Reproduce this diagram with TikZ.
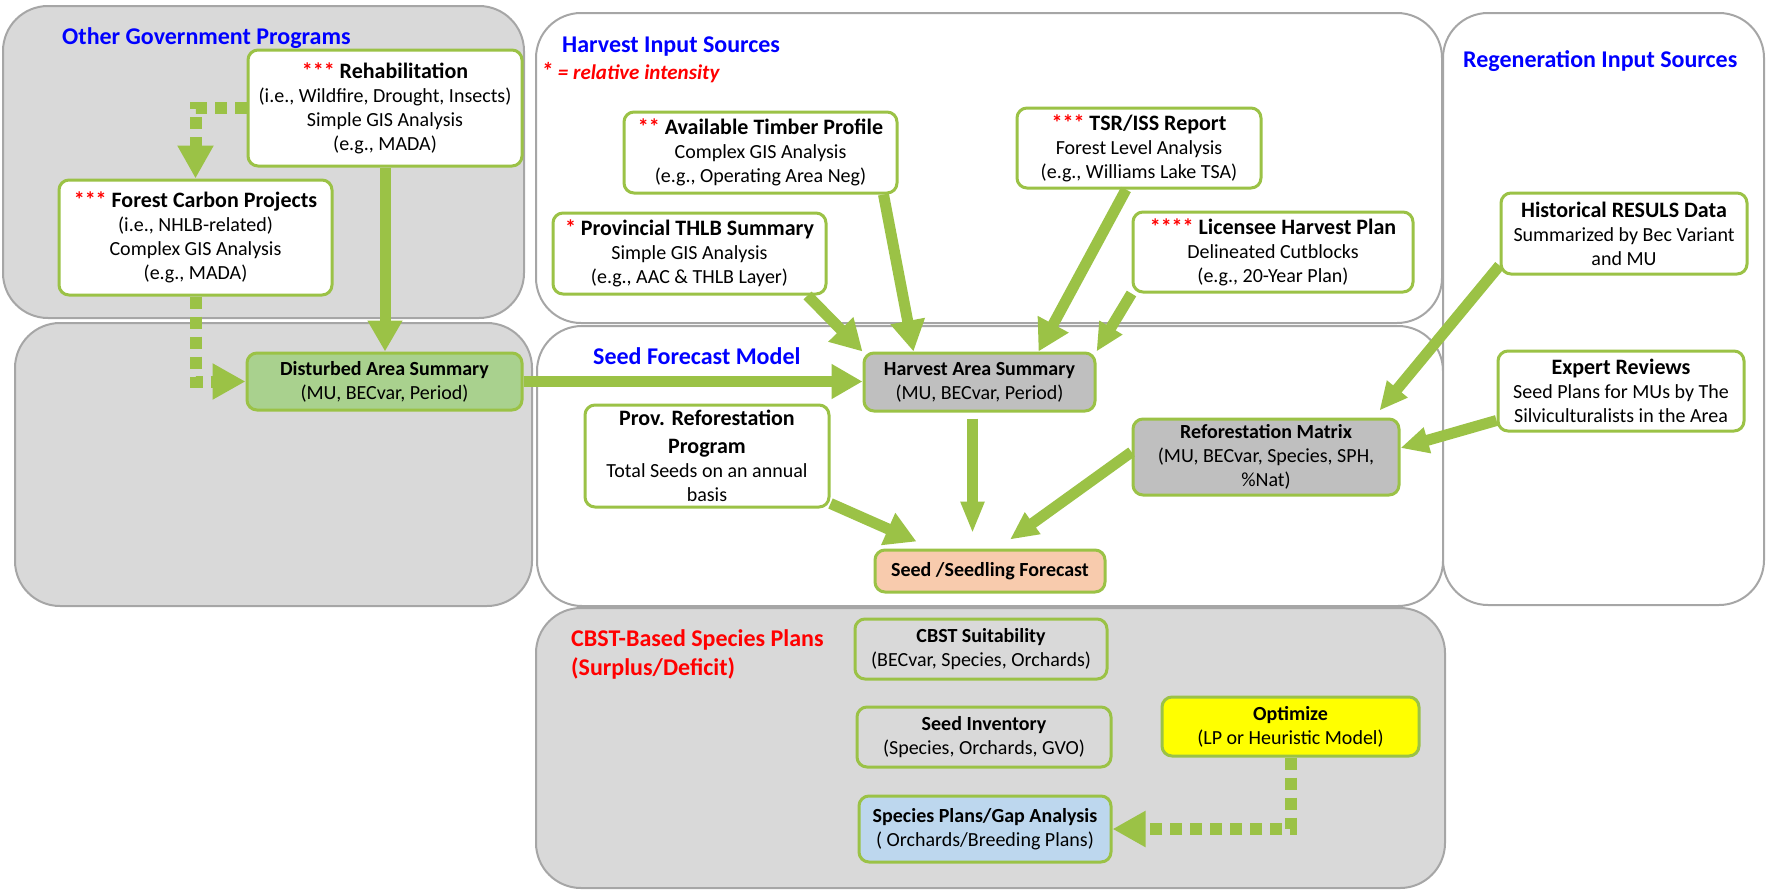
\documentclass[tikz,border=0pt]{standalone}
\usepackage{fontspec}
\setmainfont{Carlito}
\usetikzlibrary{arrows.meta}
\definecolor{grn}{RGB}{155,194,70}
\definecolor{bord}{RGB}{155,194,70}
\definecolor{pgray}{RGB}{217,217,217}
\definecolor{pline}{RGB}{166,166,166}
\definecolor{dgreen}{RGB}{169,209,142}
\definecolor{bgray}{RGB}{191,191,191}
\definecolor{peach}{RGB}{248,203,173}
\definecolor{lblue}{RGB}{189,215,238}
\definecolor{ttlblue}{RGB}{0,0,255}
\definecolor{ylw}{RGB}{255,255,0}
\newcommand{\bodyfont}{\fontsize{20}{24}\selectfont}
\newcommand{\bigttl}[1]{{\fontsize{22}{24}\selectfont\bfseries #1}}
\newcommand{\stars}[1]{\textcolor{red}{#1}}
\tikzset{
  panel/.style={draw=pline, line width=2pt, rounded corners=45pt},
  gpanel/.style={panel, fill=pgray},
  wpanel/.style={panel, fill=white},
  box/.style={draw=bord, line width=3pt, rounded corners=10pt, fill=white, align=center, inner sep=0pt, font=\bodyfont},
  ptitle/.style={font=\fontsize{24}{29}\selectfont\bfseries, text=ttlblue, inner sep=0pt, anchor=west},
  arr/.style={draw=grn, line width=11pt, -{Triangle[width=33pt,length=31pt]}},
  arrm/.style={draw=grn, line width=11pt, -{Triangle[width=25pt,length=28pt]}},
  arrn/.style={draw=grn, line width=11pt, -{Triangle[width=22pt,length=32pt]}},
  dotarr/.style={draw=grn, line width=12pt, dash pattern=on 12pt off 8pt, -{Triangle[width=34pt,length=33pt]}},
}
\begin{document}
\begin{tikzpicture}[x=1pt, y=-1pt]
\useasboundingbox (0,0) rectangle (1766,889);
% panels
\draw[gpanel] (3,6) rectangle (524,318);
\draw[gpanel] (15,323) rectangle (532,606);
\draw[wpanel] (536,13) rectangle (1442,323);
\draw[wpanel] (537,326) rectangle (1443,606);
\draw[wpanel] (1443,13) rectangle (1764,605);
\draw[gpanel] (536,608) rectangle (1445,888);
% panel titles
\node[ptitle] (tOGP) at (62,38) {Other Government Programs};
\node[ptitle] (tHIS) at (562,47) {Harvest Input Sources};
\node[inner sep=0pt, anchor=west, text=red, font=\fontsize{21}{24}\selectfont\bfseries\itshape] (tRI) at (541,73) {{\fontsize{24}{24}\selectfont *} = relative intensity};
\node[ptitle] (tRIS) at (1463,61) {Regeneration Input Sources};
\node[ptitle] (tSFM) at (593,356) {Seed Forecast Model};
\node[ptitle, text=red, align=left] (tCBST) at (571,654) {CBST-Based Species Plans\\(Surplus/Deficit)};
% boxes
\node[box, minimum width=274, minimum height=116] (rehab) at (385,108)
  {\bigttl{\stars{***} Rehabilitation}\\(i.e., Wildfire, Drought, Insects)\\Simple GIS Analysis\\(e.g., MADA)};
\node[box, minimum width=273, minimum height=115] (carbon) at (195.5,237.5)
  {\bigttl{\stars{***} Forest Carbon Projects}\\(i.e., NHLB-related)\\Complex GIS Analysis\\(e.g., MADA)};
\node[box, fill=dgreen, minimum width=275, minimum height=57] (dist) at (384.5,381.5)
  {\textbf{Disturbed Area Summary}\\(MU, BECvar, Period)};
\node[box, minimum width=273, minimum height=81] (avail) at (760.5,152.5)
  {\bigttl{\stars{**} Available Timber Profile}\\Complex GIS Analysis\\(e.g., Operating Area Neg)};
\node[box, minimum width=244, minimum height=80] (tsr) at (1139,148)
  {\bigttl{\stars{***} TSR/ISS Report}\\Forest Level Analysis\\(e.g., Williams Lake TSA)};
\node[box, minimum width=273, minimum height=81] (thlb) at (689.5,253.5)
  {\bigttl{\stars{*} Provincial THLB Summary}\\Simple GIS Analysis\\(e.g., AAC \& THLB Layer)};
\node[box, minimum width=280, minimum height=80] (lic) at (1273,252)
  {\bigttl{\stars{****} Licensee Harvest Plan}\\Delineated Cutblocks\\(e.g., 20-Year Plan)};
\node[box, minimum width=246, minimum height=81] (hist) at (1624,233.5)
  {\bigttl{Historical RESULS Data}\\Summarized by Bec Variant\\and MU};
\node[box, minimum width=246, minimum height=80] (expert) at (1621,391)
  {\bigttl{Expert Reviews}\\Seed Plans for MUs by The\\Silviculturalists in the Area};
\node[box, fill=bgray, minimum width=231, minimum height=58] (has) at (979.5,382)
  {\textbf{Harvest Area Summary}\\(MU, BECvar, Period)};
\node[box, minimum width=244, minimum height=102] (provref) at (707,456)
  {\bigttl{Prov. Reforestation}\\[4pt]\bigttl{Program}\\Total Seeds on an annual\\basis};
\node[box, fill=bgray, minimum width=266, minimum height=76] (refm) at (1266,457)
  {\textbf{Reforestation Matrix}\\(MU, BECvar, Species, SPH,\\\%Nat)};
\node[box, fill=peach, minimum width=230, minimum height=42] (seed) at (990,571)
  {\textbf{Seed /Seedling Forecast}};
\node[box, fill=pgray, minimum width=252, minimum height=60] (cbst) at (981,649)
  {\textbf{CBST Suitability}\\(BECvar, Species, Orchards)};
\node[box, fill=pgray, minimum width=254, minimum height=60] (inv) at (984,737)
  {\textbf{Seed Inventory}\\(Species, Orchards, GVO)};
\node[box, fill=ylw, minimum width=257, minimum height=59] (opt) at (1290.5,726.5)
  {\textbf{Optimize}\\(LP or Heuristic Model)};
\node[box, fill=lblue, minimum width=252, minimum height=66] (sp) at (985,829)
  {\textbf{Species Plans/Gap Analysis}\\( Orchards/Breeding Plans)};
% connectors
\draw[dotarr] (rehab.west) -| (carbon.north);
\draw[dotarr] (carbon.south) |- (dist.west);
\draw[arr] (rehab.south) -- (rehab.south |- dist.north);
\draw[arr] (dist.east) -- (dist.east -| has.west);
\draw[arr] ([xshift=-20pt]thlb.south east) -- (has.north west);
\draw[arr] ([xshift=-15pt]avail.south east) -- ([xshift=51pt]has.north west);
\draw[arr] ([xshift=-13pt]tsr.south) -- ([xshift=-58pt]has.north east);
\draw[arrm] (lic.south west) -- (has.north east);
\draw[arrn, shorten <=6pt, shorten >=15pt] ([xshift=-7pt]has.south) -- ([xshift=-7pt]has.south |- seed.north);
\draw[arr] ([yshift=5pt]provref.south east) -- ([xshift=43pt,yshift=7pt]seed.north west);
\draw[arrm] ([yshift=5pt]refm.west) -- ([xshift=20pt,yshift=9pt]seed.north);
\draw[arrm] ([yshift=10pt]hist.south west) -- ([xshift=-21pt,yshift=7pt]refm.north east);
\draw[arrm] ([yshift=12pt]expert.south west) -- ([yshift=9pt]refm.east);
\draw[dotarr] (opt.south) |- (sp.east);
\end{tikzpicture}
\end{document}
